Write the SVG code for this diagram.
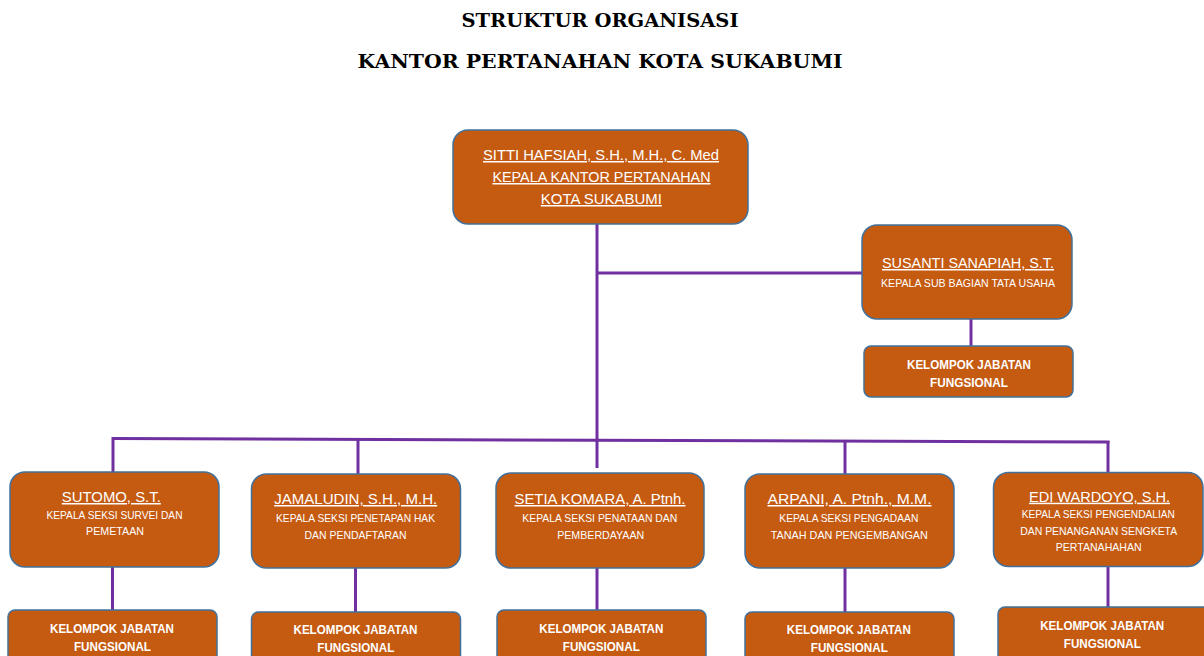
<svg xmlns="http://www.w3.org/2000/svg" width="1204" height="656" viewBox="0 0 1204 656">
<style>
.box{fill:#C55A11;stroke:#41719C;stroke-width:1.5}
.ln{stroke:#7030A0;stroke-width:3;fill:none}
.title{font-family:"DejaVu Serif","Liberation Serif",serif;font-weight:bold;font-size:19px;fill:#000;text-anchor:middle}
.nm{font-family:"Liberation Sans",Arial,sans-serif;font-size:15px;fill:#fff;text-anchor:middle;text-decoration:underline}
.sb{font-family:"Liberation Sans",Arial,sans-serif;font-size:11px;fill:#fff;text-anchor:middle}
.kj{font-family:"Liberation Sans",Arial,sans-serif;font-size:12px;font-weight:bold;fill:#fff;text-anchor:middle}
</style>
<rect width="1204" height="656" fill="#fff"/>
<g id="title">
<text class="title" x="600" y="27" textLength="277" lengthAdjust="spacingAndGlyphs">STRUKTUR ORGANISASI</text>
<text class="title" x="600" y="68" textLength="485" lengthAdjust="spacingAndGlyphs">KANTOR PERTANAHAN KOTA SUKABUMI</text>
</g>
<g id="connectors">
<line class="ln" x1="597" y1="224" x2="597" y2="468"/>
<line class="ln" x1="597" y1="273" x2="862" y2="273"/>
<line class="ln" x1="971" y1="319" x2="971" y2="346"/>
<line class="ln" x1="112" y1="438.5" x2="1109.5" y2="442"/>
<line class="ln" x1="113" y1="437" x2="113" y2="472"/>
<line class="ln" x1="358" y1="440" x2="358" y2="474"/>
<line class="ln" x1="845" y1="441.5" x2="845" y2="474"/>
<line class="ln" x1="1108" y1="441" x2="1108" y2="472"/>
<line class="ln" x1="112.5" y1="567" x2="112.5" y2="610"/>
<line class="ln" x1="355.5" y1="568" x2="355.5" y2="612"/>
<line class="ln" x1="597" y1="568" x2="597" y2="610"/>
<line class="ln" x1="845" y1="568" x2="845" y2="612"/>
<line class="ln" x1="1108" y1="567" x2="1108" y2="607"/>
</g>
<g id="kepala">
<rect class="box" x="453" y="130" width="295" height="94" rx="15"/>
<text class="nm" x="601" y="160" textLength="236" lengthAdjust="spacingAndGlyphs">SITTI HAFSIAH, S.H., M.H., C. Med</text>
<text class="nm" x="601.5" y="182" textLength="218" lengthAdjust="spacingAndGlyphs">KEPALA KANTOR PERTANAHAN</text>
<text class="nm" x="601.3" y="204" textLength="121" lengthAdjust="spacingAndGlyphs">KOTA SUKABUMI</text>
</g>
<g id="tata-usaha">
<rect class="box" x="862" y="225" width="210" height="94" rx="15"/>
<text class="nm" x="968" y="268" textLength="172" lengthAdjust="spacingAndGlyphs">SUSANTI SANAPIAH, S.T.</text>
<text class="sb" x="968" y="287" textLength="174" lengthAdjust="spacingAndGlyphs">KEPALA SUB BAGIAN TATA USAHA</text>
</g>
<g id="fungsional-tu">
<rect class="box" x="864" y="346" width="209" height="51" rx="7"/>
<text class="kj" x="969" y="369" textLength="124" lengthAdjust="spacingAndGlyphs">KELOMPOK JABATAN</text>
<text class="kj" x="969" y="387" textLength="78" lengthAdjust="spacingAndGlyphs">FUNGSIONAL</text>
</g>
<g id="sutomo">
<rect class="box" x="10" y="472" width="209" height="95" rx="15"/>
<text class="nm" x="111.3" y="502" textLength="99" lengthAdjust="spacingAndGlyphs">SUTOMO, S.T.</text>
<text class="sb" x="114.5" y="519" textLength="136" lengthAdjust="spacingAndGlyphs">KEPALA SEKSI SURVEI DAN</text>
<text class="sb" x="115" y="535" textLength="58" lengthAdjust="spacingAndGlyphs">PEMETAAN</text>
</g>
<g id="fungsional-1">
<rect class="box" x="8" y="610" width="209" height="60" rx="7"/>
<text class="kj" x="112" y="633" textLength="124" lengthAdjust="spacingAndGlyphs">KELOMPOK JABATAN</text>
<text class="kj" x="112.5" y="651" textLength="77" lengthAdjust="spacingAndGlyphs">FUNGSIONAL</text>
</g>
<g id="jamaludin">
<rect class="box" x="251.5" y="474" width="209" height="94" rx="15"/>
<text class="nm" x="355.7" y="504" textLength="163" lengthAdjust="spacingAndGlyphs">JAMALUDIN, S.H., M.H.</text>
<text class="sb" x="355.5" y="522" textLength="159" lengthAdjust="spacingAndGlyphs">KEPALA SEKSI PENETAPAN HAK</text>
<text class="sb" x="355.5" y="539" textLength="102" lengthAdjust="spacingAndGlyphs">DAN PENDAFTARAN</text>
</g>
<g id="fungsional-2">
<rect class="box" x="251.5" y="612" width="209" height="60" rx="7"/>
<text class="kj" x="355.5" y="634" textLength="124" lengthAdjust="spacingAndGlyphs">KELOMPOK JABATAN</text>
<text class="kj" x="355.8" y="652" textLength="77" lengthAdjust="spacingAndGlyphs">FUNGSIONAL</text>
</g>
<g id="setia">
<rect class="box" x="496" y="473" width="208" height="95" rx="15"/>
<text class="nm" x="600" y="504" textLength="171" lengthAdjust="spacingAndGlyphs">SETIA KOMARA, A. Ptnh.</text>
<text class="sb" x="599.8" y="522" textLength="155" lengthAdjust="spacingAndGlyphs">KEPALA SEKSI PENATAAN DAN</text>
<text class="sb" x="600.7" y="539" textLength="87" lengthAdjust="spacingAndGlyphs">PEMBERDAYAAN</text>
</g>
<g id="fungsional-3">
<rect class="box" x="497" y="610" width="209" height="60" rx="7"/>
<text class="kj" x="601.3" y="633" textLength="124" lengthAdjust="spacingAndGlyphs">KELOMPOK JABATAN</text>
<text class="kj" x="601.3" y="651" textLength="77" lengthAdjust="spacingAndGlyphs">FUNGSIONAL</text>
</g>
<g id="arpani">
<rect class="box" x="745" y="474" width="209" height="94" rx="15"/>
<text class="nm" x="849.5" y="504" textLength="164" lengthAdjust="spacingAndGlyphs">ARPANI, A. Ptnh., M.M.</text>
<text class="sb" x="848.8" y="522" textLength="139" lengthAdjust="spacingAndGlyphs">KEPALA SEKSI PENGADAAN</text>
<text class="sb" x="849.3" y="539" textLength="157" lengthAdjust="spacingAndGlyphs">TANAH DAN PENGEMBANGAN</text>
</g>
<g id="fungsional-4">
<rect class="box" x="745" y="612" width="209" height="60" rx="7"/>
<text class="kj" x="848.8" y="634" textLength="124" lengthAdjust="spacingAndGlyphs">KELOMPOK JABATAN</text>
<text class="kj" x="849.3" y="652" textLength="77" lengthAdjust="spacingAndGlyphs">FUNGSIONAL</text>
</g>
<g id="edi">
<rect class="box" x="993.5" y="472.5" width="209.5" height="94" rx="15"/>
<text class="nm" x="1099.5" y="501.7" textLength="141" lengthAdjust="spacingAndGlyphs">EDI WARDOYO, S.H.</text>
<text class="sb" x="1098.3" y="518" textLength="153" lengthAdjust="spacingAndGlyphs">KEPALA SEKSI PENGENDALIAN</text>
<text class="sb" x="1098.7" y="535" textLength="157" lengthAdjust="spacingAndGlyphs">DAN PENANGANAN SENGKETA</text>
<text class="sb" x="1098.7" y="551" textLength="86" lengthAdjust="spacingAndGlyphs">PERTANAHAHAN</text>
</g>
<g id="fungsional-5">
<rect class="box" x="998" y="607" width="212" height="60" rx="7"/>
<text class="kj" x="1102.2" y="630" textLength="124" lengthAdjust="spacingAndGlyphs">KELOMPOK JABATAN</text>
<text class="kj" x="1102.3" y="648" textLength="77" lengthAdjust="spacingAndGlyphs">FUNGSIONAL</text>
</g>
</svg>
